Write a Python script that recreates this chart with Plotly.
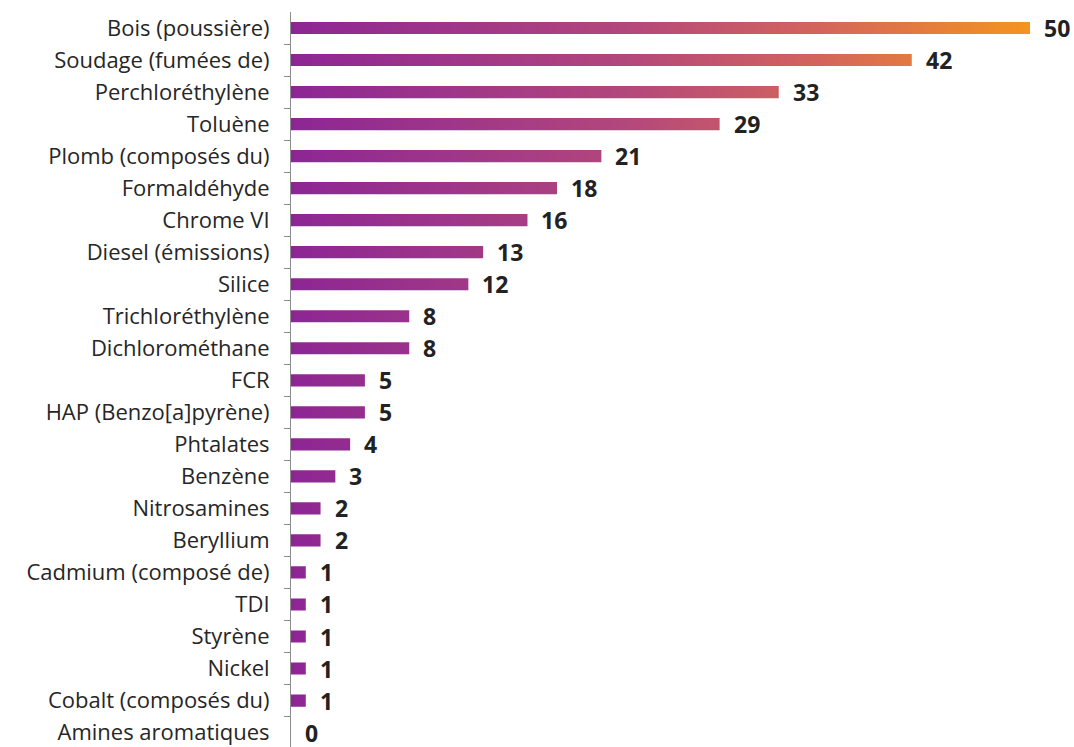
import plotly.graph_objects as go

categories = ["Bois (poussière)", "Soudage (fumées de)", "Perchloréthylène", "Toluène",
              "Plomb (composés du)", "Formaldéhyde", "Chrome VI", "Diesel (émissions)",
              "Silice", "Trichloréthylène", "Dichlorométhane", "FCR", "HAP (Benzo[a]pyrène)",
              "Phtalates", "Benzène", "Nitrosamines", "Beryllium", "Cadmium (composé de)",
              "TDI", "Styrène", "Nickel", "Cobalt (composés du)", "Amines aromatiques"]
values = [50, 42, 33, 29, 21, 18, 16, 13, 12, 8, 8, 5, 5, 4, 3, 2, 2, 1, 1, 1, 1, 1, 0]

FONT = "Open Sans"
BAR_HALF = 0.19
n = len(categories)
pos = list(range(n))

# Build bar polygons (from data) for gradient fill
xs, ys = [], []
for i, v in zip(pos, values):
    if v <= 0:
        continue
    xs += [0, v, v, 0, 0, None]
    ys += [i - BAR_HALF, i - BAR_HALF, i + BAR_HALF, i + BAR_HALF, i - BAR_HALF, None]

fig = go.Figure()
fig.add_trace(go.Scatter(
    x=xs, y=ys, mode="lines", fill="toself", line=dict(width=0),
    fillgradient=dict(type="horizontal", start=0, stop=max(values),
                      colorscale=[[0, "#8d2694"], [0.45, "#b2477c"], [0.72, "#d4655c"], [1, "#f4941f"]]),
    hoverinfo="skip", showlegend=False,
))

for i, v in zip(pos, values):
    fig.add_annotation(x=v, y=i, text=f"<b>{v}</b>", showarrow=False, xanchor="left",
                       xshift=12, font=dict(family=FONT, size=23, color="#222222"))

fig.update_layout(
    width=1074, height=747,
    margin=dict(l=291, r=0, t=12, b=0),
    plot_bgcolor="white", paper_bgcolor="white",
    showlegend=False,
    xaxis=dict(range=[0, 783 / 14.78], visible=False, automargin=False),
    yaxis=dict(range=[22.45, -0.5], tickvals=pos, ticktext=categories, ticks="",
               automargin=False, ticklabeloverflow="allow",
               showgrid=False, zeroline=False, showline=True, linecolor="#8c8c8c", linewidth=1,
               ticklabelstandoff=16,
               tickfont=dict(family=FONT, size=22, color="#262626"),
               minor=dict(tickvals=[i + 0.5 for i in pos[:-1]], ticks="outside", ticklen=6,
                          tickcolor="#8c8c8c", showgrid=False)),
)

fig.write_html("out.html", config={"displayModeBar": False, "staticPlot": True},
               post_script="document.body.style.margin='0';document.body.style.overflow='hidden';")
